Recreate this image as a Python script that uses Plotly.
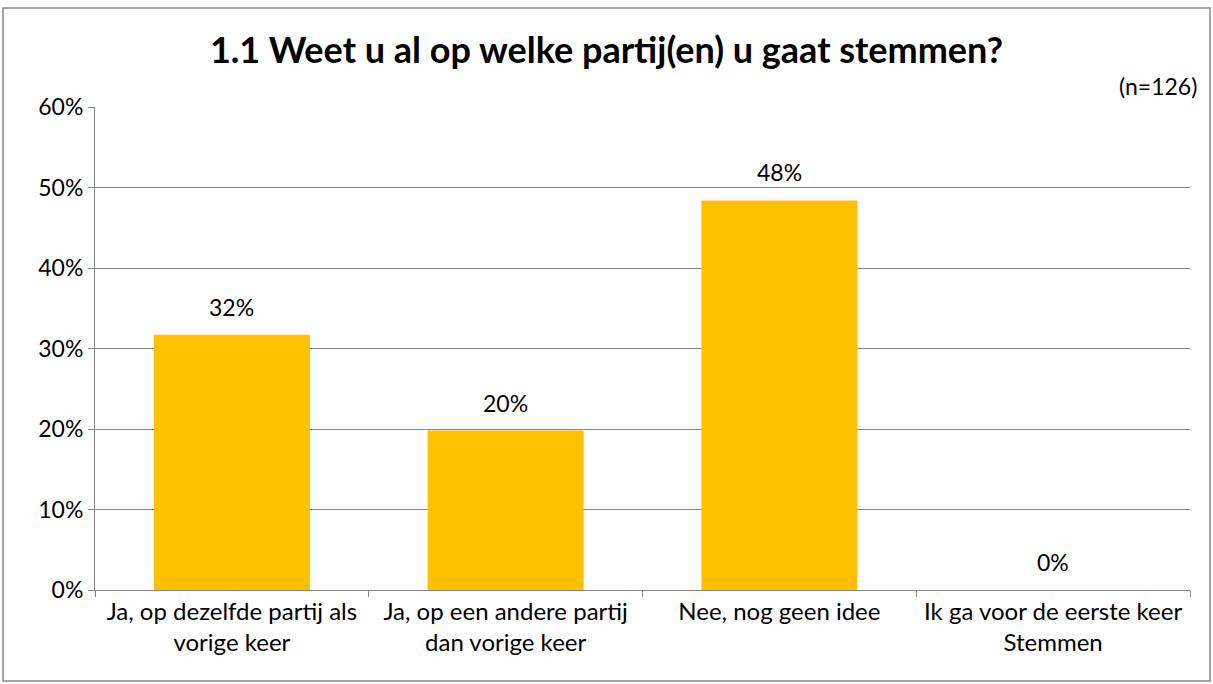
import plotly.graph_objects as go

categories = ["Ja, op dezelfde partij als<br>vorige keer",
              "Ja, op een andere partij<br>dan vorige keer",
              "Nee, nog geen idee",
              "Ik ga voor de eerste keer<br>Stemmen"]
values = [0.317, 0.198, 0.484, 0.0]
labels = ["32%", "20%", "48%", "0%"]
title_text = "1.1 Weet u al op welke partij(en) u gaat stemmen?"
note_text = "(n=126)"

W, H = 1213, 684
L, R, T, B = 95, 23, 107, 94
pw, ph = W - L - R, H - T - B

FONT = "Lato, Open Sans, sans-serif"
FS = 24

fig = go.Figure(go.Bar(
    x=categories, y=values,
    marker=dict(color="#FFC000", line=dict(width=0)),
    hoverinfo="x+y",
))

label_annotations = [dict(x=c, y=v, xref="x", yref="y", text=t, showarrow=False,
                          yanchor="bottom", yshift=12,
                          font=dict(size=FS - 1, family=FONT, color="#000000"))
                     for c, v, t in zip(categories, values, labels)]

fig.update_layout(
    width=W, height=H,
    margin=dict(l=L, r=R, t=T, b=B),
    paper_bgcolor="white", plot_bgcolor="white",
    bargap=0.43,
    showlegend=False,
    font=dict(family=FONT, size=FS, color="#000000"),
    title=dict(text="<b>" + title_text + "</b>", x=0.5, xanchor="center",
               y=1 - 50 / H, yanchor="middle",
               font=dict(size=36, family=FONT, color="#000000")),
    xaxis=dict(showgrid=False, showline=True, linecolor="#868686", linewidth=1,
               ticks="outside", ticklen=6, tickcolor="#868686", tickson="boundaries",
               tickfont=dict(size=FS, family=FONT, color="#000000")),
    yaxis=dict(range=[0, 0.6], dtick=0.1, tickformat=".0%", showgrid=True,
               gridcolor="#868686", gridwidth=1, showline=True, linecolor="#868686",
               linewidth=1, ticks="outside", ticklen=6, tickcolor="#868686",
               zeroline=False,
               tickfont=dict(size=FS - 1, family=FONT, color="#000000")),
    annotations=label_annotations + [
        dict(text=note_text, xref="paper", yref="paper",
             x=(1199 - L) / pw, y=(H - B - 86) / ph,
             xanchor="right", yanchor="middle", showarrow=False,
             font=dict(size=FS - 1, family=FONT, color="#000000"))],
    shapes=[dict(type="rect", xref="paper", yref="paper",
                 x0=(3 - L) / pw, x1=(1210 - L) / pw,
                 y0=(H - B - 681) / ph, y1=(H - B - 8) / ph,
                 line=dict(color="#868686", width=1.5), layer="below")],
)

fig.write_html("out.html", config={"displayModeBar": False},
               post_script="document.body.style.margin='0';document.body.style.padding='0';")
